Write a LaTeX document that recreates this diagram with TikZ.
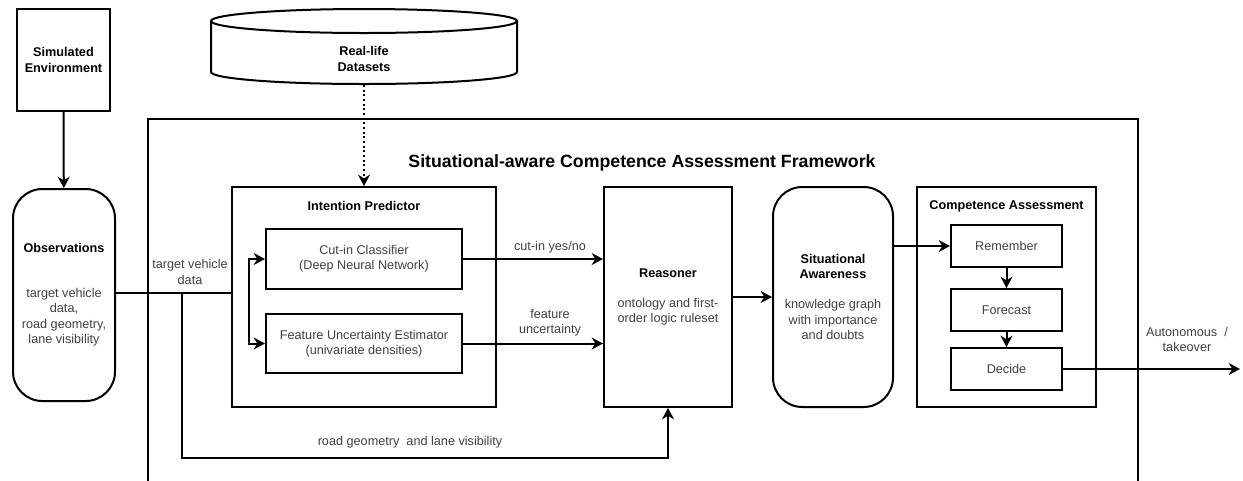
\documentclass[tikz,border=0pt]{standalone}
\usepackage{fontspec}
\setmainfont{Liberation Sans}
\usetikzlibrary{arrows.meta}

\begin{document}
\begin{tikzpicture}[x=0.75pt,y=-0.75pt,line width=1.5pt,
        >={Stealth[length=8.5pt,width=9pt]},
        every node/.style={font=\fontsize{9.5}{11.5}\selectfont,text=black!75,align=center},
        box/.style={draw=black,rectangle,inner sep=0pt},
        roundbox/.style={box,rounded corners=22pt},
        head/.style={font=\fontsize{9.5}{11.5}\selectfont\bfseries,text=black}]
        \path[use as bounding box,clip] (0,0) rectangle (1243,480);

        % sources
        \node[box,head,minimum width=69.75pt,minimum height=76.5pt] (sim) at (63.5,60) {Simulated\\Environment};
        \node[minimum width=229.5pt,minimum height=56.25pt] (db) at (364,46.5) {};
        \draw (364,21) ellipse [x radius=153,y radius=12];
        \draw (211,21) -- (211,72) arc [start angle=180,end angle=0,x radius=153,y radius=12] -- (517,21);
        \node[head] (dblabel) at (364,59) {Real-life\\Datasets};
        \node[roundbox,minimum width=76.5pt,minimum height=159pt] (obs) at (64,295) {{\color{black}\bfseries Observations}\\[22pt]target vehicle\\data,\\road geometry,\\lane visibility};

        % framework
        \node[box,minimum width=742.5pt,minimum height=315pt] (frame) at (643,329) {};
        \node[font=\fontsize{13.3}{16}\selectfont\bfseries,text=black] (frametitle) at (642,163) {Situational-aware Competence Assessment Framework};

        \node[box,minimum width=198pt,minimum height=165pt] (ip) at (364,297) {};
        \node[head] (iptitle) at (364,206) {Intention Predictor};
        \node[box,minimum width=147pt,minimum height=45pt] (cutin) at (364,259) {Cut-in Classifier\\(Deep Neural Network)};
        \node[box,minimum width=147pt,minimum height=44.25pt] (fue) at (364,343.5) {Feature Uncertainty Estimator\\(univariate densities)};

        \node[box,minimum width=96pt,minimum height=165pt] (reas) at (668,297) {{\color{black}\bfseries Reasoner}\\[11pt]ontology and first-\\order logic ruleset};
        \node[roundbox,minimum width=90pt,minimum height=165pt] (sa) at (833,297) {{\color{black}\bfseries Situational}\\{\color{black}\bfseries Awareness}\\[11pt]knowledge graph\\with importance\\and doubts};

        \node[box,minimum width=134.25pt,minimum height=165pt] (ca) at (1006.5,297) {};
        \node[head] (catitle) at (1006.5,206) {Competence Assessment};
        \node[box,minimum width=83.25pt,minimum height=31.5pt] (rem) at (1006.5,246) {Remember};
        \node[box,minimum width=83.25pt,minimum height=31.5pt] (fore) at (1006.5,310) {Forecast};
        \node[box,minimum width=83.25pt,minimum height=31.5pt] (dec) at (1006.5,369) {Decide};

        % labels
        \node (tvlabel) at (190,272) {target vehicle\\data};
        \node (cutlabel) at (550,247) {cut-in yes/no};
        \node (featlabel) at (550,322.5) {feature\\uncertainty};
        \node (roadlabel) at (410,442) {road geometry~ and lane visibility};
        \node (outlabel) at (1187,339.5) {Autonomous~ /\\takeover};
        \coordinate (br) at (182,293);
        \coordinate (out) at (1240,369);

        \draw[->] (sim) -- (obs);
        \draw[->,dotted] (db.south) -- (ip.north);
        \draw[-] (obs.east |- br) -- (br -| ip.west);
        \draw[->] (br) -- ++(0,165) -| (reas.south);
        \draw[<->] (cutin.west) -- ++(-16,0) |- (fue.west);
        \draw[->] (cutin.east) -- (cutin.east -| reas.west);
        \draw[->] (fue.east) -- (fue.east -| reas.west);
        \draw[->] (reas) -- (sa);
        \draw[->] (sa.east |- rem.west) -- (rem.west);
        \draw[->] (rem) -- (fore);
        \draw[->] (fore) -- (dec);
        \draw[->] (dec) -- (out);

    \end{tikzpicture}
\end{document}
